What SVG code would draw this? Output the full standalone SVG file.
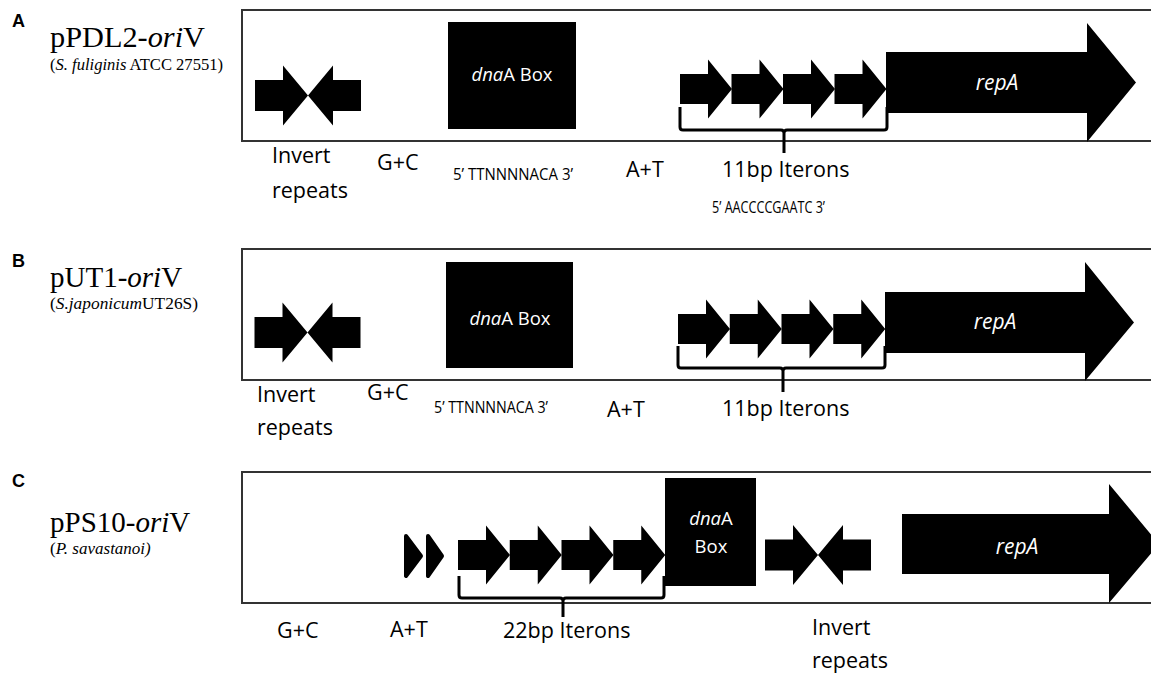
<svg xmlns="http://www.w3.org/2000/svg" width="1151" height="674" viewBox="0 0 1151 674">
<style>
.frame{fill:#fff;stroke:#333;stroke-width:2}
.blk{fill:#000}
.brace{fill:none;stroke:#000;stroke-width:3;stroke-linejoin:round;stroke-linecap:butt}
.lbl{font-family:"Open Sans","Noto Sans",sans-serif;font-size:21.5px;fill:#000}
.seq{font-family:"Open Sans","Noto Sans",sans-serif;font-size:17px;fill:#000}
.wt{font-family:"Open Sans","Noto Sans",sans-serif;font-size:18.5px;fill:#fff}
.rep{font-family:"Open Sans","Noto Sans",sans-serif;font-size:21px;font-style:italic;fill:#fff}
.title{font-family:"Liberation Serif","Times New Roman",serif;font-size:29px;fill:#000}
.sub{font-family:"Liberation Serif","Times New Roman",serif;font-size:17px;fill:#000}
.pl{font-family:"Liberation Sans",Arial,sans-serif;font-size:18px;font-weight:bold;fill:#000}
</style>
<defs>
<path id="iter" d="M0,-15 H28 V-29.5 L52,0 L28,29.5 V15 H0 Z"/>
<path id="ir" d="M0,-15.5 H28 V-30 L53,0 L78,-30 V-15.5 H106 V15.5 H78 V30 L53,0 L28,30 V15.5 H0 Z"/>
</defs>
<rect width="1151" height="674" fill="#fff"/>

<!-- Panel A -->
<g id="panelA">
<text class="pl" x="12" y="27">A</text>
<text class="title" x="50" y="47" textLength="155" lengthAdjust="spacingAndGlyphs">pPDL2-<tspan font-style="italic">ori</tspan>V</text>
<text class="sub" x="50" y="70" textLength="173" lengthAdjust="spacingAndGlyphs">(<tspan font-style="italic">S. fuliginis</tspan> ATCC 27551)</text>
<rect class="frame" x="242" y="10" width="930" height="131"/>
</g>
<g id="A-invert-repeats">
<use href="#ir" class="blk" transform="translate(255,95.5)"/>
<text class="lbl" x="272" y="163">Invert</text>
<text class="lbl" x="272" y="198">repeats</text>
</g>
<g id="A-gc"><text class="lbl" x="377" y="170">G+C</text></g>
<g id="A-dnaA">
<rect class="blk" x="448" y="22" width="128" height="107"/>
<text class="wt" x="512" y="81" text-anchor="middle"><tspan font-style="italic">dna</tspan>A Box</text>
<text class="seq" x="453" y="180" textLength="120" lengthAdjust="spacingAndGlyphs">5’ TTNNNNACA 3’</text>
</g>
<g id="A-at"><text class="lbl" x="626" y="177">A+T</text></g>
<g id="A-iterons">
<use href="#iter" class="blk" transform="translate(680,89)"/>
<use href="#iter" class="blk" transform="translate(731.5,89)"/>
<use href="#iter" class="blk" transform="translate(783,89)"/>
<use href="#iter" class="blk" transform="translate(834.5,89)"/>
<text class="lbl" x="722" y="177">11bp Iterons</text>
<text class="seq" x="712" y="213" textLength="113" lengthAdjust="spacingAndGlyphs">5’ AACCCCGAATC 3’</text>
</g>
<g id="A-repA">
<path class="blk" d="M886,52 H1087 V23 L1136,82.5 L1087,142 V113 H886 Z"/>
<text class="rep" x="997" y="90" text-anchor="middle">repA</text>
</g>

<!-- Panel B -->
<g id="panelB">
<text class="pl" x="12" y="267">B</text>
<text class="title" x="50" y="287">pUT1-<tspan font-style="italic">ori</tspan>V</text>
<text class="sub" x="50" y="309" textLength="148" lengthAdjust="spacingAndGlyphs">(<tspan font-style="italic">S.japonicum</tspan>UT26S)</text>
<rect class="frame" x="242" y="249" width="930" height="131"/>
</g>
<g id="B-invert-repeats">
<use href="#ir" class="blk" transform="translate(254.5,332.5)"/>
<text class="lbl" x="257" y="402">Invert</text>
<text class="lbl" x="257" y="435">repeats</text>
</g>
<g id="B-gc"><text class="lbl" x="367" y="400">G+C</text></g>
<g id="B-dnaA">
<rect class="blk" x="446" y="262" width="127" height="106"/>
<text class="wt" x="510" y="325" text-anchor="middle"><tspan font-style="italic">dna</tspan>A Box</text>
<text class="seq" x="434" y="413" textLength="114" lengthAdjust="spacingAndGlyphs">5’ TTNNNNACA 3’</text>
</g>
<g id="B-at"><text class="lbl" x="607" y="417">A+T</text></g>
<g id="B-iterons">
<use href="#iter" class="blk" transform="translate(678,329)"/>
<use href="#iter" class="blk" transform="translate(729.75,329)"/>
<use href="#iter" class="blk" transform="translate(781.5,329)"/>
<use href="#iter" class="blk" transform="translate(833.25,329)"/>
<text class="lbl" x="722" y="416">11bp Iterons</text>
</g>
<g id="B-repA">
<path class="blk" d="M885,292 H1085 V262 L1134,322.5 L1085,381 V353 H885 Z"/>
<text class="rep" x="995" y="329" text-anchor="middle">repA</text>
</g>

<!-- Panel C -->
<g id="panelC">
<text class="pl" x="12" y="487">C</text>
<text class="title" x="50" y="532">pPS10-<tspan font-style="italic">ori</tspan>V</text>
<text class="sub" x="50" y="554">(<tspan font-style="italic">P. savastanoi)</tspan></text>
<rect class="frame" x="242" y="472" width="930" height="131"/>
</g>
<g id="C-gc"><text class="lbl" x="277" y="638">G+C</text></g>
<g id="C-at">
<path class="blk" d="M406,536 L421,556 L406,576 Z" stroke="#000" stroke-width="4" stroke-linejoin="round"/>
<path class="blk" d="M428,536 L442,556 L428,576 Z" stroke="#000" stroke-width="4" stroke-linejoin="round"/>
<text class="lbl" x="390" y="637">A+T</text>
</g>
<g id="C-iterons">
<use href="#iter" class="blk" transform="translate(458,555)"/>
<use href="#iter" class="blk" transform="translate(509.75,555)"/>
<use href="#iter" class="blk" transform="translate(561.5,555)"/>
<use href="#iter" class="blk" transform="translate(613.25,555)"/>
<text class="lbl" x="503" y="638">22bp Iterons</text>
</g>
<g id="C-dnaA">
<rect class="blk" x="665" y="478" width="91" height="108"/>
<text class="wt" x="711" y="525" text-anchor="middle" font-style="italic">dna<tspan font-style="normal">A</tspan></text>
<text class="wt" x="711" y="553" text-anchor="middle">Box</text>
</g>
<g id="C-invert-repeats">
<use href="#ir" class="blk" transform="translate(765,555)"/>
<text class="lbl" x="812" y="635">Invert</text>
<text class="lbl" x="812" y="668">repeats</text>
</g>
<g id="C-repA">
<path class="blk" d="M902,514 H1109 V484 L1159,544 L1109,603 V574 H902 Z"/>
<text class="rep" x="1017" y="554" text-anchor="middle">repA</text>
</g>

<!-- Connectors (braces) -->
<g id="connectors">
<path class="brace" d="M680,107 V127 Q680,130 683,130 H781 Q784,130 784,133 V153 M784,133 Q784,130 787,130 H884 Q887,130 887,127 V107"/>
<path class="brace" d="M678,346 V365 Q678,368 681,368 H780 Q783,368 783,371 V392 M783,371 Q783,368 786,368 H882 Q885,368 885,365 V346"/>
<path class="brace" d="M459,576 V595 Q459,598 462,598 H560 Q563,598 563,601 V617 M563,601 Q563,598 566,598 H661 Q664,598 664,595 V576"/>
</g>
</svg>
